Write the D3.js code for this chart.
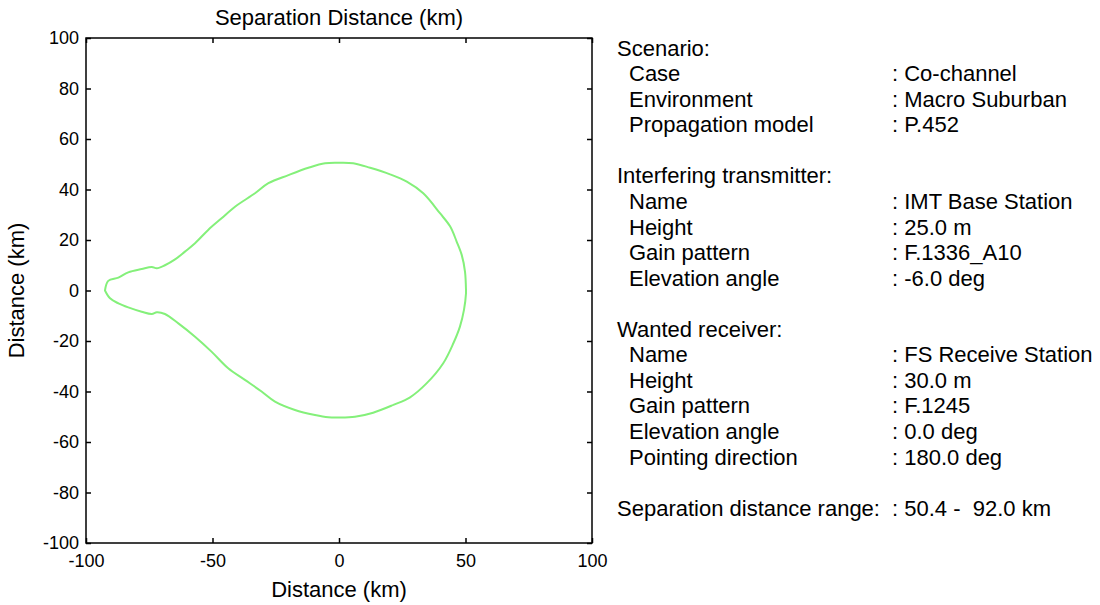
<!DOCTYPE html>
<html>
<head>
<meta charset="utf-8">
<script src="https://cdn.jsdelivr.net/npm/d3@7"></script>
<style>
  body { margin: 0; background: #fff; }
  svg text { font-family: "Liberation Sans", Arial, sans-serif; fill: #000; }
</style>
</head>
<body>
<div id="graphic"></div>
<script>
// Contour of the separation distance (km), traced clockwise from the left tip
var contourX = [-92.5, -91.2, -87.2, -83.3, -78, -74, -72, -68.8, -64.8, -60.9, -56.9, -51.7, -46.4, -41.1,
  -33.2, -27.9, -20, -12.1, -5.5, 0, 5.6, 12.3, 20.2, 26.8, 33.3, 39.9, 43.9, 46.5, 48.5, 49.8, 50.2,
  50.2, 49.4, 47.8, 45.2, 41.2, 34.6, 28.1, 21.5, 13.5, 6.3, 0, -4.2, -9.5, -17.4, -25.3, -30.6,
  -37.2, -43.8, -50.4, -56.9, -63.5, -68.8, -72, -74, -78, -83.3, -87.2, -90.5, -92.5];
var contourY = [0, 3.8, 5.1, 7.2, 8.5, 9.3, 8.8, 10, 12.3, 15.4, 18.7, 24, 28.6, 33.2,
  38.5, 42.5, 45.7, 48.6, 50.4, 50.6, 50.4, 48.6, 46, 43.1, 38.5, 30.6, 25.4, 19.4, 14.1, 7.5, 0,
  -1.1, -7.7, -14.3, -20.9, -28.8, -36.8, -42.3, -45.3, -48.4, -50, -50.3, -50.2, -49.3, -47.3, -44, -40,
  -35.4, -30.8, -24.2, -18.3, -13, -9.3, -8.6, -9.3, -8.4, -6.7, -5.1, -3.1, 0];

var xTicks = [-100, -50, 0, 50, 100];
var yTicks = [-100, -80, -60, -40, -20, 0, 20, 40, 60, 80, 100];

var titleText = 'Separation Distance (km)';
var xLabelText = 'Distance (km)';
var yLabelText = 'Distance (km)';

// Info panel: row index, label, value (null value = heading)
var panelRows = [0, 1, 2, 3, 5, 6, 7, 8, 9, 11, 12, 13, 14, 15, 16, 18];
var panelLabels = ['Scenario:', 'Case', 'Environment', 'Propagation model',
  'Interfering transmitter:', 'Name', 'Height', 'Gain pattern', 'Elevation angle',
  'Wanted receiver:', 'Name', 'Height', 'Gain pattern', 'Elevation angle', 'Pointing direction',
  'Separation distance range:'];
var panelValues = [null, ': Co-channel', ': Macro Suburban', ': P.452',
  null, ': IMT Base Station', ': 25.0 m', ': F.1336_A10', ': -6.0 deg',
  null, ': FS Receive Station', ': 30.0 m', ': F.1245', ': 0.0 deg', ': 180.0 deg',
  ': 50.4 -  92.0 km'];
// which labels sit flush left (headings and the range line)
var panelFlush = [true, false, false, false, true, false, false, false, false,
  true, false, false, false, false, false, true];

var renderGraphic = function (config) {
  var margins = { top: 38, right: 508, bottom: 62, left: 86 };
  var chartWidth = config.width - margins.left - margins.right;
  var chartHeight = config.height - margins.top - margins.bottom;

  var containerElement = d3.select(config.container);
  containerElement.html('');

  var svg = containerElement.append('svg')
    .attr('width', config.width)
    .attr('height', config.height);

  var chartElement = svg.append('g')
    .attr('transform', 'translate(' + margins.left + ',' + margins.top + ')');

  var xScale = d3.scaleLinear().domain([-100, 100]).range([0, chartWidth]);
  var yScale = d3.scaleLinear().domain([-100, 100]).range([chartHeight, 0]);

  // Contour
  var points = contourX.map(function (d, i) { return [d, contourY[i]]; });
  var line = d3.line()
    .x(function (d) { return xScale(d[0]); })
    .y(function (d) { return yScale(d[1]); })
    .curve(d3.curveCatmullRomClosed);

  chartElement.append('path')
    .datum(points)
    .attr('d', line)
    .attr('fill', 'none')
    .attr('stroke', '#84f07a')
    .attr('stroke-width', 2);

  // Axes with inward ticks (box style)
  var tickSize = 5;
  var plainFormat = function (d) { return String(d); };
  var styleAxis = function (g) {
    g.select('.domain').remove();
    g.selectAll('line').attr('stroke', '#000').attr('stroke-width', 1.5);
    g.selectAll('text').style('font-size', '18px').attr('fill', '#000');
  };

  chartElement.append('g')
    .attr('transform', 'translate(0,' + chartHeight + ')')
    .call(d3.axisBottom(xScale).tickValues(xTicks).tickSizeInner(-tickSize).tickSizeOuter(0).tickPadding(11).tickFormat(plainFormat))
    .call(styleAxis);

  chartElement.append('g')
    .call(d3.axisTop(xScale).tickValues(xTicks).tickSizeInner(-tickSize).tickSizeOuter(0).tickFormat(''))
    .call(styleAxis);

  chartElement.append('g')
    .call(d3.axisLeft(yScale).tickValues(yTicks).tickSizeInner(-tickSize).tickSizeOuter(0).tickPadding(7).tickFormat(plainFormat))
    .call(styleAxis);

  chartElement.append('g')
    .attr('transform', 'translate(' + chartWidth + ',0)')
    .call(d3.axisRight(yScale).tickValues(yTicks).tickSizeInner(-tickSize).tickSizeOuter(0).tickFormat(''))
    .call(styleAxis);

  chartElement.append('rect')
    .attr('width', chartWidth)
    .attr('height', chartHeight)
    .attr('fill', 'none')
    .attr('stroke', '#000')
    .attr('stroke-width', 1.5);

  // Titles
  var labelSize = '22px';
  chartElement.append('text')
    .attr('x', chartWidth / 2)
    .attr('y', -13)
    .attr('text-anchor', 'middle')
    .style('font-size', labelSize)
    .text(titleText);

  chartElement.append('text')
    .attr('x', chartWidth / 2)
    .attr('y', chartHeight + 54)
    .attr('text-anchor', 'middle')
    .style('font-size', labelSize)
    .text(xLabelText);

  chartElement.append('text')
    .attr('transform', 'translate(-62,' + (chartHeight / 2) + ') rotate(-90)')
    .attr('text-anchor', 'middle')
    .style('font-size', labelSize)
    .text(yLabelText);

  // Info panel
  var panel = svg.append('g').attr('transform', 'translate(617,48)');
  var rowStep = 25.55;
  var panelSize = '22px';

  panelLabels.forEach(function (label, i) {
    var y = panelRows[i] * rowStep;
    panel.append('text')
      .attr('x', panelFlush[i] ? 0 : 12)
      .attr('y', y)
      .attr('dy', '0.35em')
      .style('font-size', panelSize)
      .text(label);
    if (panelValues[i] !== null) {
      panel.append('text')
        .attr('x', 275)
        .attr('y', y)
        .attr('dy', '0.35em')
        .style('white-space', 'pre')
        .style('font-size', panelSize)
        .text(panelValues[i]);
    }
  });
};

window.onload = function () {
  renderGraphic({ container: '#graphic', width: 1100, height: 605 });
};
</script>
</body>
</html>
